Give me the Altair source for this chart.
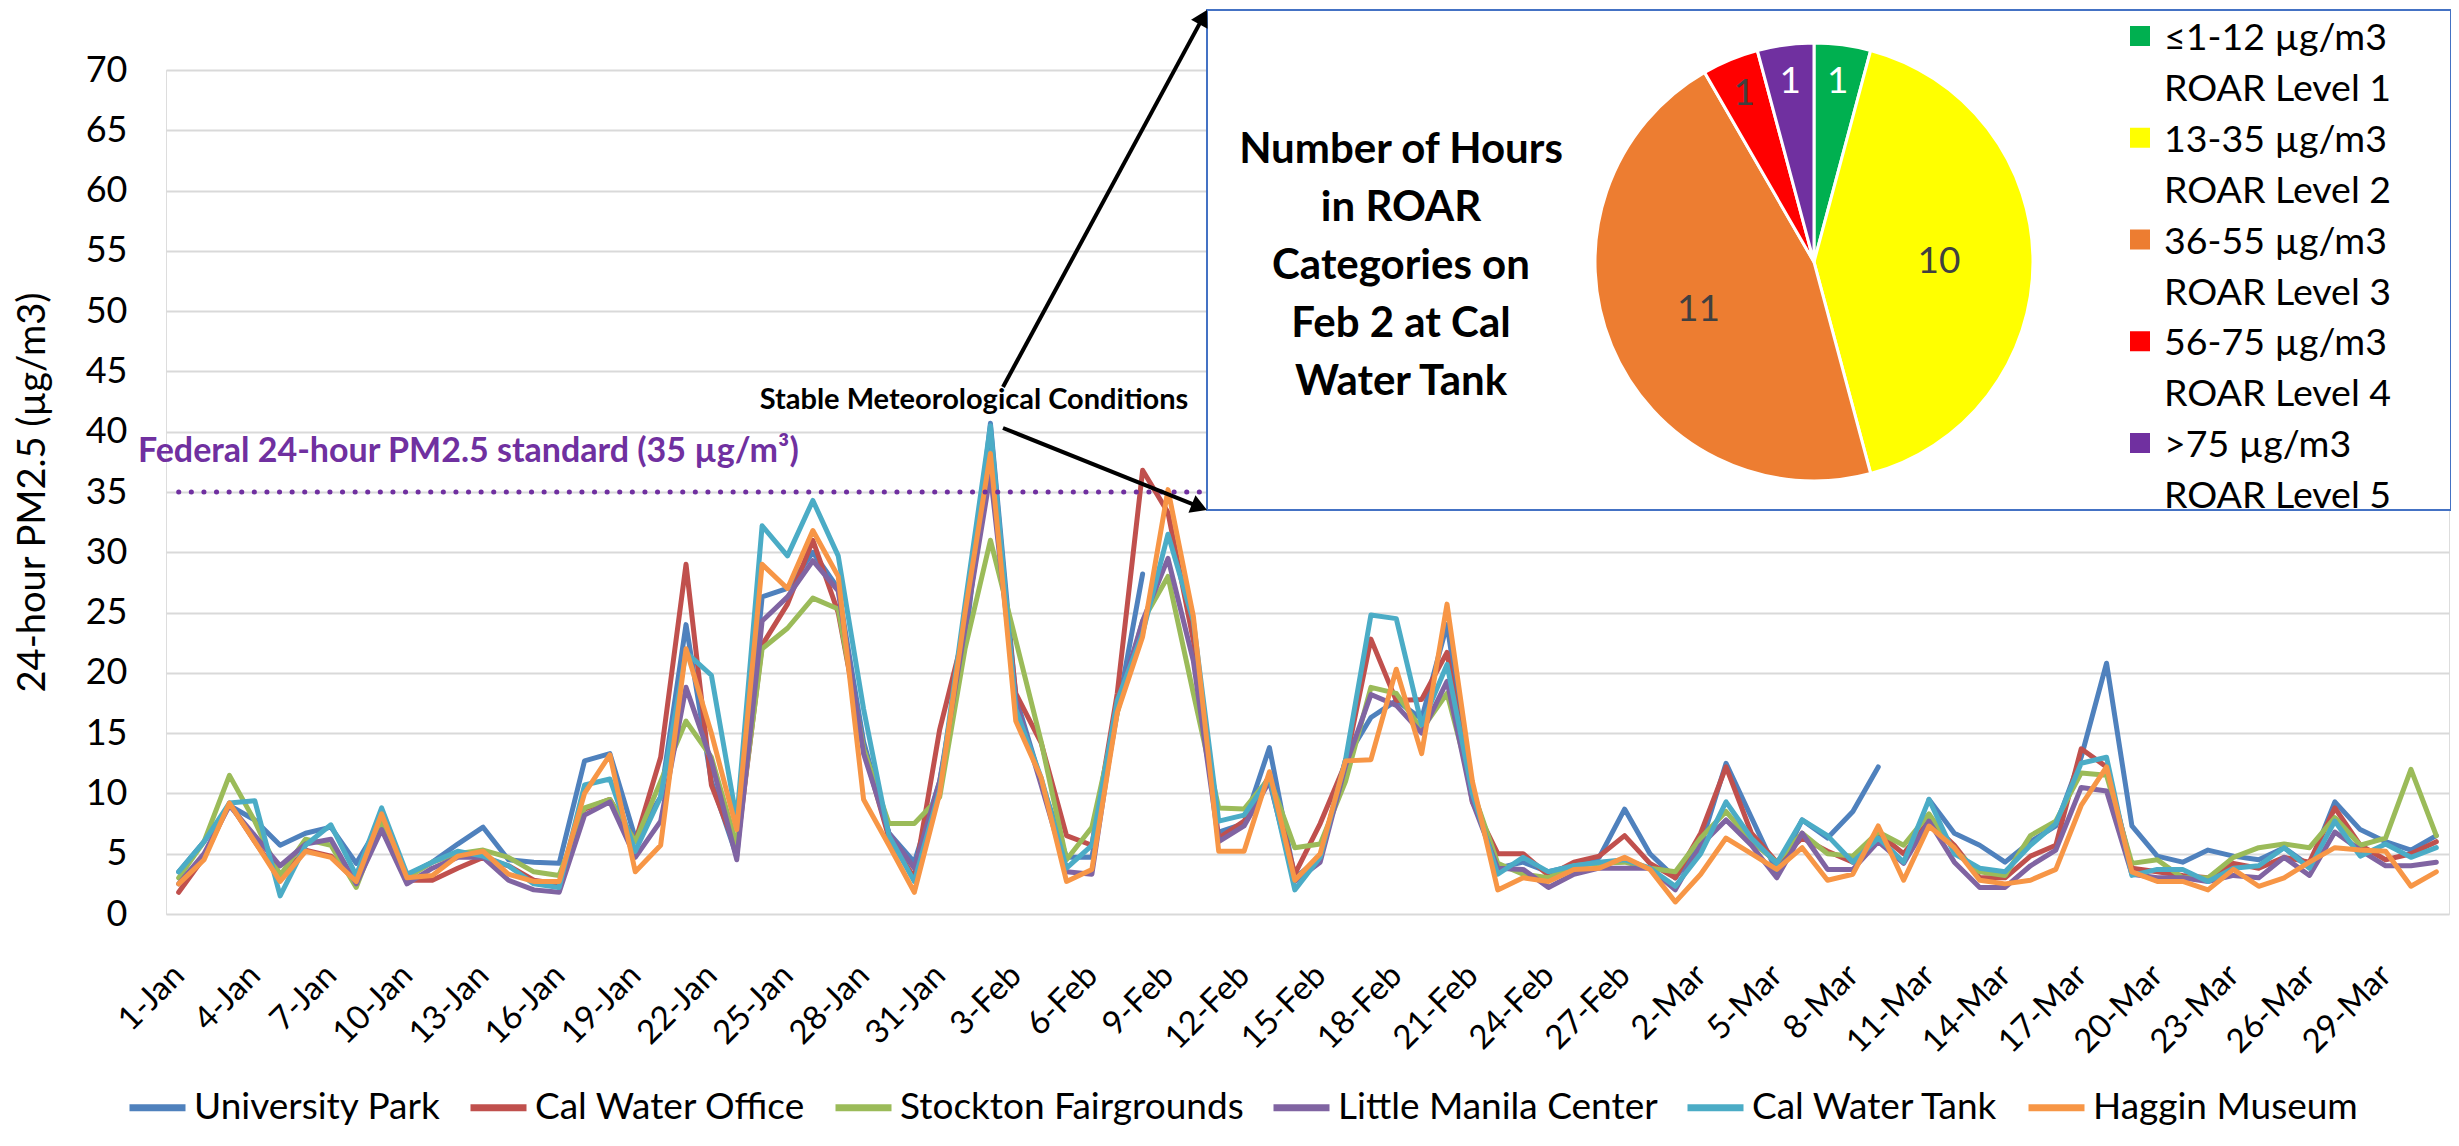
import math
import altair as alt
import pandas as pd

FONT = "Lato"
PURPLE = "#7030A0"

# ---------------- data ----------------
MONTHS = [("Jan", 31), ("Feb", 28), ("Mar", 31)]
dates = [f"{d}-{m}" for m, n in MONTHS for d in range(1, n + 1)]
tick_days = list(range(1, len(dates) + 1, 3))

sites = ["University Park", "Cal Water Office", "Stockton Fairgrounds",
         "Little Manila Center", "Cal Water Tank", "Haggin Museum"]
site_colors = ["#4F81BD", "#C0504D", "#9BBB59", "#8064A2", "#4BACC6", "#F79646"]

university_park = [
    3.5, 6.0, 9.0, 7.8, 5.7, 6.7, 7.2, 4.2, 7.7, 3.2, 4.3, 5.8, 7.2, 4.5, 4.3,
    4.2, 12.7, 13.3, 6.3, 9.7, 24.0, 11.0, 4.8, 26.3, 27.0, 30.0, 27.0, 14.3, 6.7, 4.3,
    11.0, 22.3, 40.7, 18.0, 11.0, 4.7, 4.7, 16.7, 28.2, None, None, 6.8, 7.5, 13.8, 3.0,
    4.7, 12.8, 16.3, 17.7, 16.2, 24.0, 10.3, 3.8, 4.3, 3.5, 4.0, 4.7, 8.7, 5.0, 3.0,
    5.7, 12.5, 8.0, 3.5, 7.8, 6.3, 8.5, 12.2, None, 9.5, 6.7, 5.7, 4.3, 6.0, 7.3,
    13.0, 20.8, 7.3, 4.8, 4.3, 5.3, 4.8, 4.5, 5.5, 4.0, 9.3, 7.0, 6.0, 5.3, 6.5]
cal_water_office = [
    1.8, 4.7, 9.2, 6.0, 3.0, 5.3, 4.8, 2.7, 7.8, 2.8, 2.8, 3.8, 4.7, 4.0, 2.8,
    2.5, 8.7, 9.5, 6.0, 13.0, 29.0, 10.7, 5.3, 22.3, 25.7, 31.0, 25.0, 13.7, 6.3, 3.0,
    15.3, 23.7, 37.5, 18.3, 14.2, 6.5, 5.7, 18.3, 36.8, 33.3, 22.7, 6.3, 7.7, 11.5, 3.3,
    7.5, 12.5, 22.8, 17.7, 17.8, 21.7, 9.3, 5.0, 5.0, 3.2, 4.3, 4.8, 6.5, 4.2, 3.0,
    6.7, 12.2, 6.7, 4.3, 6.3, 5.2, 4.3, 6.7, 5.0, 7.7, 5.7, 3.0, 3.0, 4.8, 5.7,
    13.7, 12.2, 3.8, 3.5, 3.2, 3.0, 4.2, 3.8, 4.7, 4.3, 8.8, 5.7, 4.5, 5.0, 6.0]
stockton_fairgrounds = [
    3.0, 6.0, 11.5, 7.7, 3.2, 6.2, 5.7, 2.2, 7.7, 3.0, 4.3, 5.0, 5.3, 4.7, 3.5,
    3.2, 8.8, 9.5, 6.0, 11.0, 16.0, 13.0, 5.7, 22.0, 23.7, 26.2, 25.3, 13.7, 7.5, 7.5,
    9.7, 22.0, 31.0, 22.7, 14.3, 4.5, 7.2, 16.7, 24.3, 28.0, 18.3, 8.8, 8.7, 11.3, 5.5,
    5.8, 11.0, 18.8, 18.3, 15.3, 18.3, 10.3, 4.2, 3.3, 3.0, 4.0, 4.2, 4.3, 3.8, 3.5,
    6.3, 8.5, 6.0, 4.3, 6.7, 5.0, 4.8, 6.8, 5.7, 8.3, 5.3, 3.5, 3.2, 6.5, 7.7,
    11.7, 11.5, 4.2, 4.5, 3.0, 3.0, 4.7, 5.5, 5.8, 5.5, 8.0, 5.7, 6.3, 12.0, 6.5]
little_manila_center = [
    2.5, 5.0, 9.0, 6.5, 4.0, 5.8, 6.2, 2.5, 7.0, 2.5, 3.8, 4.7, 4.7, 2.8, 2.0,
    1.8, 8.2, 9.3, 4.7, 7.7, 18.8, 12.7, 4.5, 24.3, 26.3, 29.3, 26.8, 13.3, 6.7, 3.8,
    11.0, 23.7, 36.5, 17.7, 10.7, 3.5, 3.3, 17.3, 24.3, 29.5, 21.0, 6.0, 7.3, 11.0, 2.7,
    4.3, 12.3, 18.2, 17.3, 15.0, 19.3, 9.3, 3.8, 3.7, 2.2, 3.3, 3.8, 3.8, 3.8, 2.0,
    5.7, 7.8, 5.7, 3.0, 6.7, 3.7, 3.7, 6.0, 4.2, 7.7, 4.3, 2.2, 2.2, 4.0, 5.3,
    10.5, 10.2, 3.3, 3.0, 3.0, 2.7, 3.2, 3.0, 4.7, 3.2, 6.8, 5.3, 4.0, 4.0, 4.3]
cal_water_tank = [
    3.5, 6.0, 9.2, 9.4, 1.5, 5.7, 7.4, 3.2, 8.8, 3.3, 4.3, 5.2, 4.8, 4.0, 2.5,
    2.2, 10.7, 11.2, 5.2, 9.7, 21.7, 19.8, 7.8, 32.2, 29.7, 34.3, 29.7, 17.0, 6.5, 2.7,
    10.3, 25.7, 40.5, 17.0, 11.3, 3.8, 5.7, 17.7, 23.3, 31.5, 24.3, 7.7, 8.2, 11.3, 2.0,
    4.7, 12.8, 24.8, 24.5, 15.7, 20.7, 10.0, 3.3, 4.7, 3.5, 4.0, 4.3, 4.5, 3.8, 2.3,
    5.0, 9.3, 6.3, 4.2, 7.8, 6.5, 4.3, 6.3, 4.3, 9.5, 5.0, 3.8, 3.5, 5.7, 7.5,
    12.5, 13.0, 3.2, 3.7, 3.7, 2.7, 3.8, 4.0, 5.5, 3.8, 7.7, 4.8, 5.8, 4.7, 5.5]
haggin_museum = [
    2.5, 4.5, 9.2, 6.0, 2.7, 5.2, 4.7, 2.7, 8.3, 3.0, 3.2, 4.8, 5.2, 3.3, 2.7,
    2.7, 10.0, 13.2, 3.5, 5.7, 22.0, 15.0, 7.0, 29.0, 27.0, 31.8, 28.0, 9.5, 5.7, 1.8,
    10.0, 25.0, 38.2, 16.0, 11.3, 2.7, 3.7, 16.7, 23.0, 35.2, 24.7, 5.2, 5.2, 11.8, 2.8,
    5.0, 12.7, 12.8, 20.3, 13.3, 25.7, 11.0, 2.0, 3.0, 2.7, 3.7, 3.8, 4.7, 3.7, 1.0,
    3.3, 6.3, 5.0, 3.7, 5.5, 2.8, 3.3, 7.3, 2.8, 7.3, 5.5, 2.8, 2.5, 2.8, 3.7,
    9.0, 12.2, 3.5, 2.7, 2.7, 2.0, 3.7, 2.3, 3.0, 4.3, 5.5, 5.3, 5.2, 2.3, 3.5]
series = [university_park, cal_water_office, stockton_fairgrounds,
          little_manila_center, cal_water_tank, haggin_museum]

roar_ranges = ["≤1-12 µg/m3", "13-35  µg/m3", "36-55  µg/m3", "56-75  µg/m3", ">75  µg/m3"]
roar_levels = ["ROAR Level 1", "ROAR Level 2", "ROAR Level 3", "ROAR Level 4", "ROAR Level 5"]
roar_hours = [1, 10, 11, 1, 1]
roar_colors = ["#00B050", "#FFFF00", "#ED7D31", "#FF0000", "#7030A0"]
roar_label_colors = ["#FFFFFF", "#404040", "#404040", "#404040", "#FFFFFF"]

standard_value = 35
standard_label = "Federal 24-hour PM2.5 standard (35 µg/m³)"
annotation_label = "Stable Meteorological Conditions"
inset_title = "Number of Hours\nin ROAR\nCategories on\nFeb 2 at Cal\nWater Tank"
y_title = "24-hour PM2.5 (µg/m3)"

# ---------------- layout (pixels, relative to plot origin) ----------------
PAD_L, PAD_T, PAD_R, PAD_B = 158, 62, 2, 220
W, H = 2283, 844
BOX_X1, BOX_Y1, BOX_Y2 = 1041, -60, 440
BOX_X2 = W + 2
PIE_X, PIE_Y, PIE_R = 1648, 192, 219

# ---------------- tables ----------------
rows = []
for s, vals in zip(sites, series):
    for i, v in enumerate(vals):
        rows.append({"day": i + 1, "site": s, "pm": v})
df = pd.DataFrame(rows)

std_df = pd.DataFrame({"pm": [standard_value], "day": [1], "day_end": [len(dates)]})
pie_df = pd.DataFrame({"cat": roar_ranges, "level": roar_levels,
                       "hours": roar_hours, "idx": list(range(len(roar_ranges)))})
pie_df["legend_label"] = pie_df["cat"] + "\n" + pie_df["level"]


def one(**kw):
    return pd.DataFrame({k: [v] for k, v in kw.items()})


label_expr = "[" + ",".join("'" + d + "'" for d in dates) + "][datum.value - 1]"

x_scale = alt.Scale(domain=[0.5, len(dates) + 0.5], nice=False, zero=False)
y_scale = alt.Scale(domain=[0, 70], nice=False)
x_axis = alt.Axis(values=tick_days, labelExpr=label_expr, labelAngle=-45,
                  labelAlign="right", labelBaseline="middle", labelFlush=False,
                  labelOverlap=False, grid=False, ticks=False, domain=False,
                  labelFont=FONT, labelFontSize=33, labelColor="black",
                  labelPadding=56, title=None)
y_axis = alt.Axis(values=list(range(0, 75, 5)), grid=True, gridColor="#D9D9D9",
                  gridWidth=2, ticks=False, domain=False, labelFont=FONT,
                  labelFontSize=36, labelColor="black", labelPadding=39,
                  title=y_title, titleFont=FONT, titleFontSize=38,
                  titleFontWeight="normal", titleColor="black", titlePadding=33)

lines = alt.Chart(df).mark_line(
    strokeWidth=5, strokeJoin="round", strokeCap="round",
    invalid="break-paths-filter-domains"
).encode(
    x=alt.X("day:Q", scale=x_scale, axis=x_axis),
    y=alt.Y("pm:Q", scale=y_scale, axis=y_axis),
    stroke=alt.Stroke("site:N", scale=alt.Scale(domain=sites, range=site_colors),
                      legend=alt.Legend(orient="none", legendX=-40, legendY=1006,
                                        direction="horizontal", columns=6, title=None,
                                        symbolType="stroke", symbolSize=3136,
                                        symbolStrokeWidth=7, labelFont=FONT,
                                        labelFontSize=37, labelColor="black",
                                        labelLimit=600, labelOffset=5,
                                        columnPadding=15)),
)

std_rule = alt.Chart(std_df).mark_rule(
    color=PURPLE, strokeWidth=5, strokeDash=[0.1, 12.5], strokeCap="round"
).encode(
    x=alt.X("day:Q", scale=x_scale, axis=x_axis),
    x2="day_end:Q",
    y=alt.Y("pm:Q", scale=y_scale, axis=y_axis),
)

std_text = alt.Chart(one(t=standard_label)).mark_text(
    align="left", baseline="middle", font=FONT, fontSize=34, fontWeight="bold", color=PURPLE
).encode(x=alt.value(-28), y=alt.value(382), text="t:N")

ann_text = alt.Chart(one(t=annotation_label)).mark_text(
    align="center", baseline="middle", font=FONT, fontSize=29, fontWeight="bold", color="black"
).encode(x=alt.value(808), y=alt.value(330), text="t:N")

box = alt.Chart(one(t="box")).mark_rect(
    fill="white", stroke="#4472C4", strokeWidth=2
).encode(x=alt.value(BOX_X1), x2=alt.value(BOX_X2), y=alt.value(BOX_Y1), y2=alt.value(BOX_Y2))

pie_fill = alt.Scale(domain=roar_ranges, range=roar_colors)
theta = alt.Theta("hours:Q", stack=True)
order = alt.Order("idx:Q")

arcs = alt.Chart(pie_df).mark_arc(outerRadius=PIE_R, stroke="white", strokeWidth=3).encode(
    theta=theta, order=order,
    fill=alt.Fill("cat:N", scale=pie_fill, legend=None),
    x=alt.value(PIE_X), y=alt.value(PIE_Y),
)
label_color = alt.Color("cat:N", scale=alt.Scale(domain=roar_ranges, range=roar_label_colors), legend=None)
big_labels = alt.Chart(pie_df).mark_text(radius=125, font=FONT, fontSize=37, baseline="middle").encode(
    theta=theta, order=order, color=label_color,
    text=alt.condition("datum.hours >= 5", alt.Text("hours:Q"), alt.value("")),
    x=alt.value(PIE_X), y=alt.value(PIE_Y),
)
small_labels = alt.Chart(pie_df).mark_text(radius=182, font=FONT, fontSize=37, baseline="middle").encode(
    theta=theta, order=order, color=label_color,
    text=alt.condition("datum.hours < 5", alt.Text("hours:Q"), alt.value("")),
    x=alt.value(PIE_X), y=alt.value(PIE_Y),
)

title_text = alt.Chart(one(t=inset_title)).mark_text(
    align="center", baseline="top", lineBreak="\n", lineHeight=58,
    font=FONT, fontSize=42, fontWeight="bold", color="black"
).encode(x=alt.value(1235), y=alt.value(60), text="t:N")


def arrow(x1, y1, x2, y2, size=350):
    dx, dy = x2 - x1, y2 - y1
    L = math.hypot(dx, dy)
    ux, uy = dx / L, dy / L
    h = 0.866 * math.sqrt(size) / 2
    cx, cy = x2 - h * ux, y2 - h * uy
    ang = math.degrees(math.atan2(ux, -uy)) % 360
    src = one(t="a")
    line = alt.Chart(src).mark_rule(color="black", strokeWidth=4).encode(
        x=alt.value(x1), y=alt.value(y1), x2=alt.value(cx), y2=alt.value(cy))
    head = alt.Chart(src).mark_point(shape="triangle-up", filled=True, size=size,
                                     angle=ang, color="black", opacity=1).encode(
        x=alt.value(cx), y=alt.value(cy))
    return [line, head]


arrows = arrow(837, 317, BOX_X1, BOX_Y1) + arrow(837, 358, BOX_X1, BOX_Y2)

main = alt.layer(lines, std_rule, std_text, ann_text, box, arcs, big_labels,
                 small_labels, title_text, *arrows)

leg_y = alt.Y("cat:N", scale=alt.Scale(domain=roar_ranges, range=[-34, 373], padding=0), axis=None)
leg_sq = alt.Chart(pie_df).mark_square(size=400, opacity=1).encode(
    y=leg_y, x=alt.value(1974), fill=alt.Fill("cat:N", scale=pie_fill, legend=None))
leg_txt = alt.Chart(pie_df).mark_text(
    align="left", baseline="top", lineBreak="\n", lineHeight=51, dy=-16,
    font=FONT, fontSize=37.5, color="black"
).encode(y=leg_y, x=alt.value(1998), text="legend_label:N")
pie_legend = alt.layer(leg_sq, leg_txt)

chart = alt.layer(main, pie_legend).resolve_scale(y="independent").properties(
    width=W, height=H,
    autosize=alt.AutoSizeParams(type="none"),
    padding={"left": PAD_L, "top": PAD_T, "right": PAD_R, "bottom": PAD_B},
).configure_view(strokeWidth=0).configure(font=FONT)

chart.save("out.html", embed_options={"renderer": "svg", "actions": False})
